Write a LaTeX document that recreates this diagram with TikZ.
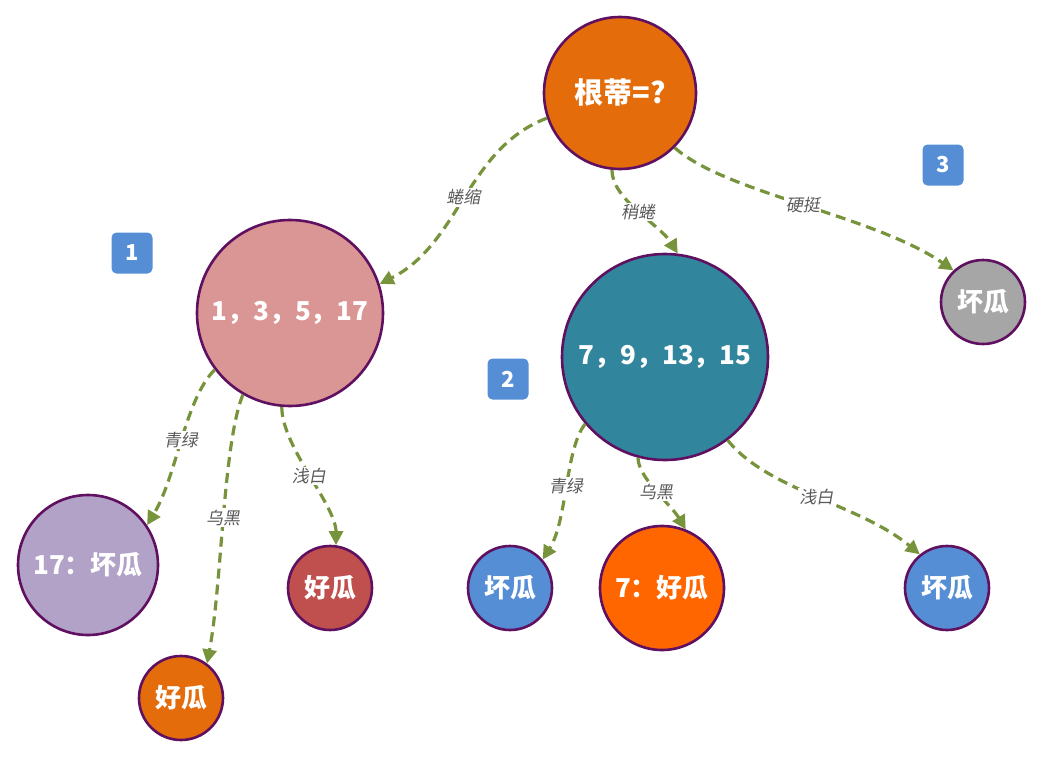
\documentclass[tikz,border=0pt]{standalone}
\usepackage{fontspec}
\usetikzlibrary{arrows.meta}
\newfontfamily\cjk{Noto Sans CJK SC}
\newfontfamily\cjkit{Noto Sans CJK SC}[FakeSlant=0.18]
\definecolor{rimc}{RGB}{96,16,96}
\definecolor{edgec}{HTML}{77933C}
\definecolor{lblc}{HTML}{595959}
\definecolor{orangec}{HTML}{E46C0A}
\definecolor{pinkc}{HTML}{D99694}
\definecolor{tealc}{HTML}{31859C}
\definecolor{greyc}{HTML}{A6A6A6}
\definecolor{lilac}{HTML}{B3A2C7}
\definecolor{redc}{HTML}{C0504D}
\definecolor{bluec}{HTML}{558ED5}
\definecolor{brightorange}{HTML}{FF6600}
\begin{document}
\begin{tikzpicture}[x=1pt,y=-1pt,
  ball/.style={circle,draw=rimc,line width=2.6pt,inner sep=0pt,text=white,
    font=\cjk\bfseries\fontsize{26}{30}\selectfont},
  edge/.style={draw=edgec,line width=3.2pt,dash pattern=on 10pt off 6pt,
    -{Triangle[length=14pt,width=14pt]}},
  lbl/.style={fill=white,inner sep=1.5pt,text=lblc,font=\cjkit\fontsize{17}{20}\selectfont},
  badge/.style={fill=bluec,rounded corners=5pt,minimum width=41pt,minimum height=41pt,
    inner sep=0pt,text=white,font=\cjk\bfseries\fontsize{22}{26}\selectfont}]
\useasboundingbox (0,0) rectangle (1042,758);
% nodes
\node[ball,fill=orangec,minimum size=152pt,font=\cjk\bfseries\fontsize{29}{32}\selectfont] (root) at (620,93) {根蒂=?};
\node[ball,fill=pinkc,minimum size=186pt] (n1) at (290,313) {1，3，5，17};
\node[ball,fill=tealc,minimum size=206pt] (n2) at (665,357) {7，9，13，15};
\node[ball,fill=greyc,minimum size=84pt] (n3) at (983,302) {坏瓜};
\node[ball,fill=lilac,minimum size=140pt] (a1) at (88,565) {17：坏瓜};
\node[ball,fill=orangec,minimum size=84pt] (a2) at (181,698) {好瓜};
\node[ball,fill=redc,minimum size=84pt] (a3) at (330,588) {好瓜};
\node[ball,fill=bluec,minimum size=84pt] (b1) at (510,588) {坏瓜};
\node[ball,fill=brightorange,minimum size=124pt] (b2) at (662,588) {7：好瓜};
\node[ball,fill=bluec,minimum size=84pt] (b3) at (947,588) {坏瓜};
% badges
\node[badge] (k1) at (132,253) {1};
\node[badge] (k2) at (508,379) {2};
\node[badge] (k3) at (943,165) {3};
% edges
\draw[edge] (root.199) .. controls +(-80,30) and +(80,-40) .. node[lbl]{蜷缩} (n1.18);
\draw[edge] (root.264) .. controls +(0,30) and +(-18,-29) .. node[lbl]{稍蜷} (n2.83);
\draw[edge] (root.315) .. controls +(50,45) and +(-80,-55) .. node[lbl]{硬挺} (n3.133);
\draw[edge] (n1.217) .. controls +(-30,30) and +(30,-50) .. node[lbl]{青绿} (a1.34);
\draw[edge] (n1.240) .. controls +(-20,50) and +(15,-80) .. node[lbl]{乌黑} (a2.53);
\draw[edge] (n1.265) .. controls +(0,40) and +(0,-40) .. node[lbl]{浅白} (a3.82);
\draw[edge] (n2.220) .. controls +(-20,25) and +(25,-40) .. node[lbl]{青绿} (b1.41);
\draw[edge] (n2.255) .. controls +(0,20) and +(-15,-25) .. node[lbl]{乌黑} (b2.68);
\draw[edge] (n2.307) .. controls +(40,50) and +(-60,-50) .. node[lbl]{浅白} (b3.129);
\end{tikzpicture}
\end{document}
